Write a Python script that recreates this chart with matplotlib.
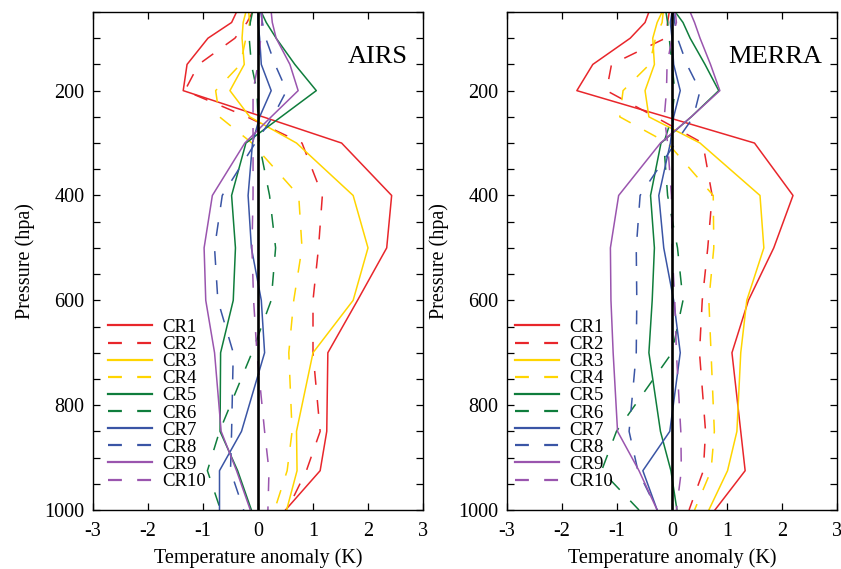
import matplotlib
matplotlib.use('Agg')
import matplotlib.pyplot as plt
from matplotlib.ticker import MultipleLocator, FixedLocator

plt.rcParams['font.family'] = ['Liberation Serif', 'DejaVu Serif']
plt.rcParams['axes.unicode_minus'] = False
plt.rcParams['lines.scale_dashes'] = False

levels = [50, 70, 100, 150, 200, 250, 300, 400, 500, 600, 700, 850, 925, 1000]
labels = ['CR1', 'CR2', 'CR3', 'CR4', 'CR5', 'CR6', 'CR7', 'CR8', 'CR9', 'CR10']

# AIRS temperature anomaly (K)
airs_cr1 = [-0.39, -0.48, -0.91, -1.29, -1.36, 0.09, 1.52, 2.43, 2.34, 1.81, 1.27, 1.25, 1.13, 0.50]
airs_cr2 = [-0.10, -0.20, -0.42, -1.08, -1.33, -0.20, 0.80, 1.17, 1.10, 1.00, 1.00, 1.13, 0.88, 0.53]
airs_cr3 = [-0.22, -0.27, -0.29, -0.25, -0.51, -0.15, 0.70, 1.73, 2.00, 1.73, 1.00, 0.70, 0.71, 0.52]
airs_cr4 = [-0.17, -0.15, -0.22, -0.32, -0.77, -0.70, -0.11, 0.74, 0.80, 0.65, 0.56, 0.62, 0.53, 0.30]
airs_cr5 = [0.06, 0.15, 0.33, 0.67, 1.06, 0.42, -0.22, -0.48, -0.41, -0.45, -0.68, -0.69, -0.37, -0.12]
airs_cr6 = [-0.10, -0.14, -0.16, -0.12, -0.02, 0.00, 0.02, 0.21, 0.32, 0.24, -0.11, -0.70, -0.92, -0.68]
airs_cr7 = [0.00, 0.00, 0.03, 0.06, 0.24, 0.03, -0.10, -0.18, -0.12, 0.06, 0.12, -0.30, -0.70, -0.70]
airs_cr8 = [0.05, 0.08, 0.14, 0.31, 0.52, 0.27, -0.05, -0.65, -0.79, -0.73, -0.45, -0.48, -0.50, -0.26]
airs_cr9 = [0.24, 0.26, 0.33, 0.58, 0.73, 0.24, -0.24, -0.83, -0.98, -0.95, -0.79, -0.67, -0.39, -0.14]
airs_cr10 = [0.07, 0.07, 0.05, 0.00, -0.09, -0.09, -0.09, -0.09, -0.11, -0.08, -0.02, 0.12, 0.20, 0.18]

# MERRA temperature anomaly (K)
merra_cr1 = [-0.42, -0.49, -0.76, -1.44, -1.73, -0.11, 1.50, 2.20, 1.85, 1.39, 1.09, 1.25, 1.33, 0.78]
merra_cr2 = [-0.05, -0.08, -0.12, -1.10, -1.19, -0.31, 0.56, 0.73, 0.65, 0.55, 0.50, 0.61, 0.57, 0.31]
merra_cr3 = [-0.18, -0.27, -0.35, -0.32, -0.49, -0.42, 0.51, 1.60, 1.67, 1.36, 1.25, 1.18, 1.01, 0.67]
merra_cr4 = [-0.16, -0.18, -0.30, -0.41, -0.89, -0.95, -0.08, 0.75, 0.76, 0.67, 0.71, 0.77, 0.71, 0.41]
merra_cr5 = [0.06, 0.20, 0.33, 0.60, 0.85, 0.35, -0.20, -0.39, -0.32, -0.36, -0.42, -0.21, -0.02, 0.09]
merra_cr6 = [-0.11, -0.08, -0.05, 0.00, 0.05, 0.00, -0.15, -0.08, 0.10, 0.20, 0.00, -1.01, -1.28, -0.60]
merra_cr7 = [0.00, -0.03, 0.00, 0.03, 0.15, 0.03, -0.03, -0.24, -0.15, 0.03, 0.15, -0.04, -0.53, -0.27]
merra_cr8 = [0.03, 0.05, 0.10, 0.27, 0.51, 0.39, 0.06, -0.58, -0.65, -0.64, -0.65, -0.78, -0.62, -0.27]
merra_cr9 = [0.33, 0.41, 0.51, 0.70, 0.87, 0.35, -0.21, -0.97, -1.12, -1.11, -1.07, -0.99, -0.60, -0.27]
merra_cr10 = [0.06, 0.08, 0.00, -0.09, -0.10, -0.14, -0.08, -0.01, 0.00, 0.05, 0.08, 0.16, 0.17, 0.08]

airs = [airs_cr1, airs_cr2, airs_cr3, airs_cr4, airs_cr5,
        airs_cr6, airs_cr7, airs_cr8, airs_cr9, airs_cr10]
merra = [merra_cr1, merra_cr2, merra_cr3, merra_cr4, merra_cr5,
         merra_cr6, merra_cr7, merra_cr8, merra_cr9, merra_cr10]

red, yellow, green, blue, purple = '#e8262b', '#ffd500', '#0f7d3c', '#3a55a5', '#9a55ae'
colors = [red, red, yellow, yellow, green, green, blue, blue, purple, purple]
dash = (0, (10, 11))
styles = ['-', dash] * 5

xticks = [-3, -2, -1, 0, 1, 2, 3]
yticks = [200, 400, 600, 800, 1000]

fig = plt.figure(figsize=(8.41, 5.69), dpi=100)
W, H = 841, 569
ax1 = fig.add_axes([93 / W, 59 / H, 330 / W, 498 / H])
ax2 = fig.add_axes([507 / W, 59 / H, 330 / W, 498 / H])


def draw(ax, data, title, leg_anchor):
    for vals, lab, c, ls in zip(data, labels, colors, styles):
        ax.plot(vals, levels, color=c, linestyle=ls, lw=1.1, label=lab)
    ax.axvline(0, color='black', lw=1.9, zorder=5)
    ax.set_xlim(-3, 3)
    ax.set_ylim(1000, 50)
    ax.xaxis.set_major_locator(FixedLocator(xticks))
    ax.set_xticklabels([str(t) for t in xticks])
    ax.set_yticks(yticks)
    ax.set_yticklabels([str(t) for t in yticks])
    ax.yaxis.set_minor_locator(MultipleLocator(50))
    ax.tick_params(which='both', direction='in', top=True, right=True,
                   length=5, width=0.9, labelsize=14.5)
    ax.tick_params(axis='x', pad=9)
    ax.tick_params(axis='y', pad=6)
    for s in ax.spines.values():
        s.set_linewidth(1.0)
    ax.set_xlabel('Temperature anomaly (K)', fontsize=14.5, labelpad=5)
    ax.set_ylabel('Pressure (hpa)', fontsize=14.5, labelpad=7)
    ax.text(0.955, 0.91, title, transform=ax.transAxes, ha='right', va='center',
            fontsize=19)
    leg = ax.legend(loc='lower left', bbox_to_anchor=leg_anchor, frameon=False,
                    fontsize=13.5, handlelength=2.35, handletextpad=0.53,
                    labelspacing=0.0, borderaxespad=0.0, borderpad=0.0)
    for h in leg.get_lines():
        h.set_linewidth(1.6)


draw(ax1, airs, 'AIRS', (0.045, 0.04))
draw(ax2, merra, 'MERRA', (0.024, 0.04))

fig.savefig('out.png', dpi=100)
